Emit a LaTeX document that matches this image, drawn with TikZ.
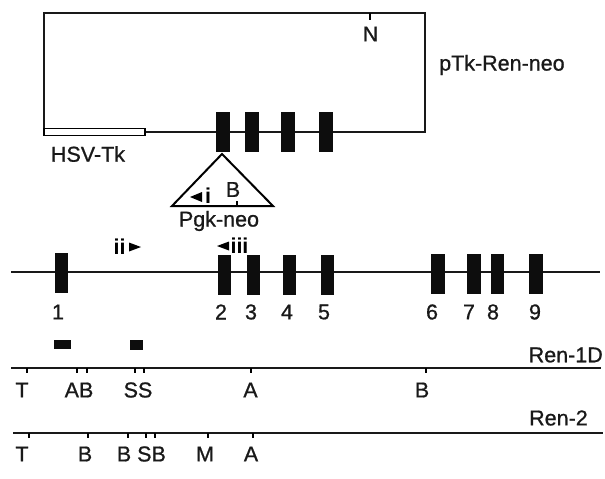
\documentclass[tikz,border=0pt]{standalone}
\usepackage{fontspec}
\setmainfont{Liberation Sans}[FakeBold=0.8]
\newfontfamily\boldlab{Liberation Sans Bold}
\begin{document}
\begin{tikzpicture}[x=1pt,y=-1pt,
  wire/.style={line width=2.1pt,black!90},
  exon/.style={fill=black!95,draw=none},
  lab/.style={inner sep=0pt,font=\fontsize{21.5}{21.5}\selectfont,text=black!90},
  primer/.style={inner sep=0pt,font=\fontsize{21.5}{21.5}\boldlab,text=black},
  tick/.style={line width=1.5pt}]
\useasboundingbox (0,0) rectangle (605,479);
\fill[white] (0,0) rectangle (605,479);
% plasmid
\coordinate (pa) at (44,133); \coordinate (pb) at (44,13); \coordinate (pc) at (425,13); \coordinate (pd) at (425,132); \coordinate (pe) at (145,132);
\draw[wire,line join=miter] (pe) -- (pd) -- (pc) -- (pb) -- (pa);
\draw[line width=1.8pt,fill=white] (44,128.5) rectangle (145,135.5);
\foreach \x in {216,245,281,319}{\fill[exon] (\x,112) rectangle ++(13.5,40);}
\draw[tick] (370,13) -- (370,20);
\node[lab] (nN) at (370.5,34) {N};
\node[lab,anchor=west] (nP) at (439,65) {pTk-Ren-neo};
\node[lab] (nH) at (88,154) {HSV-Tk};
% triangle
\coordinate (t1) at (222,154); \coordinate (t2) at (172,206); \coordinate (t3) at (273,206);
\draw[line width=2pt,line join=miter] (t1) -- (t2) -- (t3) -- cycle;
\draw[tick] (237,201) -- (237,206);
\fill (190,197) -- (202,192) -- (202,202) -- cycle;
\node[primer] (ni) at (208,195.5) {i};
\node[lab] (nB) at (233,189.5) {B};
\node[lab] (nPg) at (219,221) {Pgk-neo};
% primers
\node[primer] (nii) at (119.5,246.5) {ii};
\fill (141,247) -- (129,242.5) -- (129,251.5) -- cycle;
\fill (217,246) -- (229,241.5) -- (229,250.5) -- cycle;
\node[primer] (niii) at (239.5,246) {iii};
% gene line
\coordinate (g1) at (11,272); \coordinate (g2) at (600,272);
\draw[wire] (g1) -- (g2);
\foreach \x/\yy in {54.5/253,217.5/255,246.5/255,282.5/255,320.5/255,431/253.5,467/253.5,490.5/253.5,529/253.5}{
  \fill[exon] (\x,\yy) rectangle ++(13.5,40);}
\foreach \x/\n in {58/1,221/2,251/3,287/4,324/5,432/6,469/7,493/8,535/9}{
  \node[lab] (num\n) at (\x,312) {\n};}
% bars
\fill[exon] (54,339.5) rectangle (71,349);
\fill[exon] (130,340) rectangle (143,349.5);
% Ren-1D
\node[lab,anchor=east] (nR1) at (603,355) {Ren-1D};
\coordinate (r1a) at (11,368); \coordinate (r1b) at (601,368);
\draw[wire] (r1a) -- (r1b);
\foreach \x in {27,77,87,135,144,251,426}{\draw[tick] (\x,368) -- (\x,372.5);}
\node[lab] at (22,390) {T};
\node[lab] at (79,390) {AB};
\node[lab] at (138,390) {SS};
\node[lab] at (250.5,390) {A};
\node[lab] at (422,390) {B};
% Ren-2
\node[lab,anchor=west] (nR2) at (529,418) {Ren-2};
\coordinate (r2a) at (13,433); \coordinate (r2b) at (603,433);
\draw[wire] (r2a) -- (r2b);
\foreach \x in {29,88,128,146,155,208,253}{\draw[tick] (\x,433) -- (\x,437.5);}
\node[lab] at (22,454) {T};
\node[lab] at (85,454) {B};
\node[lab] at (124,454) {B};
\node[lab] at (151.5,454) {SB};
\node[lab] at (205,454) {M};
\node[lab] at (251,454) {A};
\end{tikzpicture}
\end{document}
